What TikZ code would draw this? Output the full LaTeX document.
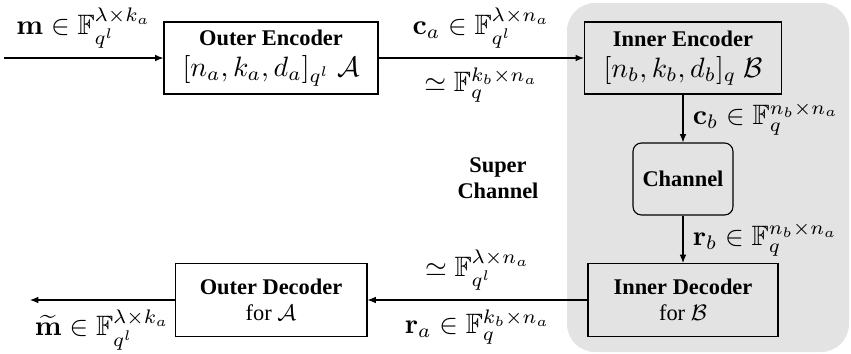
\documentclass[tikz,border=0pt]{standalone}
\usepackage[no-math]{fontspec}
\setmainfont{Liberation Serif}
\usepackage{amsmath}
\usepackage{amssymb}
\usepackage{xcolor}
\usepackage{tikz}
\usetikzlibrary{arrows.meta,positioning}

\begin{document}
\begin{tikzpicture}[x=0.357pt, y=-0.357pt,
    codebox/.style={draw, align=center, font=\footnotesize, inner sep=2pt},
    arr/.style={-{Latex[length=3pt,width=2.4pt]}}]
    \useasboundingbox (0,0) rectangle (851,353);
    \fill[gray!22, rounded corners=10pt] (567,3) rectangle (849,352);
    \node[codebox, fill=white, minimum width=76.4pt, minimum height=25.7pt] (outenc) at (271,58) {\textbf{Outer Encoder}\\[1.5pt]{\normalsize$[n_a, k_a, d_a]_{q^l}\ \mathcal{A}$}};
    \node[codebox, fill=gray!22, minimum width=70.3pt, minimum height=25.7pt] (inenc) at (683,58) {\textbf{Inner Encoder}\\[1.5pt]{\normalsize$[n_b, k_b, d_b]_q\ \mathcal{B}$}};
    \node[codebox, fill=gray!22, rounded corners=3pt, minimum width=35.7pt, minimum height=25.7pt] (chan) at (683,179) {\textbf{Channel}};
    \node[codebox, fill=gray!22, minimum width=67.8pt, minimum height=26pt] (indec) at (683,300) {\textbf{Inner Decoder}\\for $\mathcal{B}$};
    \node[codebox, fill=white, minimum width=68.5pt, minimum height=26pt] (outdec) at (271,300) {\textbf{Outer Decoder}\\for $\mathcal{A}$};
    \node[font=\footnotesize\bfseries, align=center] (super) at (498,178) {Super\\Channel};
    \coordinate (msg) at (4,58);
    \coordinate (est) at (30,300);
    \draw[arr] (msg) -- node[above] {$\mathbf{m}\in\mathbb{F}_{q^l}^{\lambda\times k_a}$} (outenc);
    \draw[arr] (outenc) -- node[above] {$\mathbf{c}_a\in\mathbb{F}_{q^l}^{\lambda\times n_a}$} node[below] {$\simeq\mathbb{F}_q^{k_b\times n_a}$} (inenc);
    \draw[arr] (inenc) -- node[right] {$\mathbf{c}_b\in\mathbb{F}_q^{n_b\times n_a}$} (chan);
    \draw[arr] (chan) -- node[right] {$\mathbf{r}_b\in\mathbb{F}_q^{n_b\times n_a}$} (indec);
    \draw[arr] (indec) -- node[above] {$\simeq\mathbb{F}_{q^l}^{\lambda\times n_a}$} node[below] {$\mathbf{r}_a\in\mathbb{F}_q^{k_b\times n_a}$} (outdec);
    \draw[arr] (outdec) -- node[below] {$\widetilde{\mathbf{m}}\in\mathbb{F}_{q^l}^{\lambda\times k_a}$} (est);
\end{tikzpicture}
\end{document}
